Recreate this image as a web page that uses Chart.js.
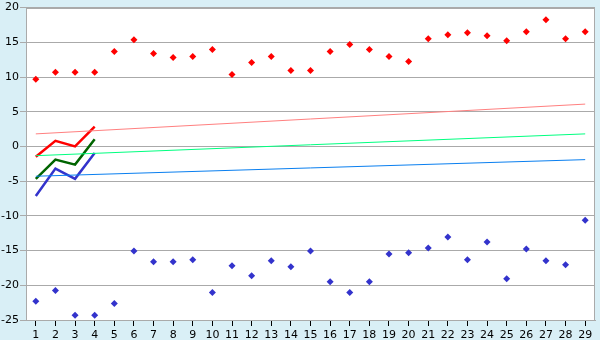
<!DOCTYPE html>
<html>
<head>
<meta charset="utf-8">
<script src="https://cdn.jsdelivr.net/npm/chart.js@4/dist/chart.umd.min.js"></script>
<style>
  html, body { margin: 0; padding: 0; background: #d9eff6; }
  #wrap { width: 600px; height: 340px; position: relative; }
</style>
</head>
<body>
<div id="wrap"><canvas id="c" width="600" height="340"></canvas></div>
<script>
// x categories
const labels = ['1','2','3','4','5','6','7','8','9','10','11','12','13','14','15','16','17','18','19','20','21','22','23','24','25','26','27','28','29'];

// upper scatter (red)
const redPoints = [9.67, 10.67, 10.67, 10.67, 13.67, 15.38, 13.38, 12.81, 12.95, 13.95, 10.38, 12.1, 12.95, 10.95, 10.95,
  13.67, 14.67, 13.95, 12.95, 12.24, 15.52, 16.1, 16.38, 15.95, 15.24, 16.52, 18.24, 15.52, 16.52];

// lower scatter (blue)
const bluePoints = [-22.29, -20.76, -24.33, -24.33, -22.62, -15.05, -16.62, -16.62, -16.33, -21.05, -17.19, -18.62, -16.48, -17.33, -15.05,
  -19.48, -21.05, -19.48, -15.48, -15.33, -14.62, -13.05, -16.33, -13.76, -19.05, -14.76, -16.48, -17.05, -10.62];

// short thick lines (first 4 categories)
const redLine = [-1.48, 0.81, 0, 2.86];
const greenLine = [-4.67, -1.9, -2.62, 1.05];
const blueLine = [-7.14, -3.19, -4.67, -0.95];

// thin trend lines: start and end values
const redTrend = [1.81, 6.1];
const greenTrend = [-1.33, 1.81];
const blueTrend = [-4.29, -1.9];

const yTicks = [20, 15, 10, 5, 0, -5, -10, -15, -20, -25];

function endpoints(pair) {
    const arr = labels.map(() => null);
    arr[0] = pair[0];
    arr[arr.length - 1] = pair[1];
    return arr;
}

const plotBg = {
    id: 'plotBg',
    beforeDraw(chart) {
        const { ctx, chartArea: a } = chart;
        ctx.save();
        ctx.fillStyle = '#d9eff6';
        ctx.fillRect(0, 0, chart.width, chart.height);
        ctx.fillStyle = '#ffffff';
        ctx.fillRect(a.left, a.top, a.right - a.left, a.bottom - a.top);
        ctx.restore();
    },
    afterDatasetsDraw(chart) {
        const { ctx, chartArea: a } = chart;
        ctx.save();
        ctx.strokeStyle = '#aaaaaa';
        ctx.lineWidth = 1;
        ctx.strokeRect(Math.round(a.left) + 0.5, Math.round(a.top) + 0.5, Math.round(a.right - a.left) - 1, Math.round(a.bottom - a.top));
        ctx.restore();
    }
};

const lineDs = (data, color, w) => ({
    data, borderColor: color, backgroundColor: color, borderWidth: w,
    pointRadius: 0, tension: 0, spanGaps: true, fill: false
});

const pointDs = (data, color) => ({
    data, showLine: false, pointStyle: 'rectRot', pointRadius: 3.5,
    pointBackgroundColor: color, pointBorderColor: color, borderColor: color, backgroundColor: color, borderWidth: 0
});

new Chart(document.getElementById('c'), {
    type: 'line',
    data: {
        labels,
        datasets: [
            lineDs(endpoints(redTrend), '#ff8080', 1),
            lineDs(endpoints(greenTrend), '#00ff80', 1),
            lineDs(endpoints(blueTrend), '#0a7ff0', 1),
            lineDs(redLine, '#ff0000', 2.5),
            lineDs(greenLine, '#006400', 2.5),
            lineDs(blueLine, '#3333cc', 2.5),
            pointDs(redPoints, '#ff0000'),
            pointDs(bluePoints, '#3333cc'),
        ]
    },
    options: {
        responsive: false, animation: false,
        layout: { padding: { top: 5, right: 5, left: 0, bottom: 0 } },
        plugins: { legend: { display: false }, tooltip: { enabled: false } },
        scales: {
            x: {
                offset: true,
                grid: { drawOnChartArea: false, drawTicks: true, tickLength: 6, color: '#000000', offset: false },
                border: { display: true, color: '#aaaaaa' },
                ticks: { color: '#000000', font: { family: 'DejaVu Sans', size: 11 }, padding: 3, maxRotation: 0, autoSkip: false },
                afterFit: s => { s.height = 20; }
            },
            y: {
                min: -25, max: 20,
                afterBuildTicks: s => { s.ticks = yTicks.map(v => ({ value: v })); },
                grid: { color: '#aaaaaa', tickLength: 6, drawTicks: true },
                border: { display: true, color: '#aaaaaa' },
                ticks: { color: '#000000', font: { family: 'DejaVu Sans', size: 11 }, padding: 1 },
                afterFit: s => { s.width = 26; }
            }
        }
    },
    plugins: [plotBg]
});
</script>
</body>
</html>
